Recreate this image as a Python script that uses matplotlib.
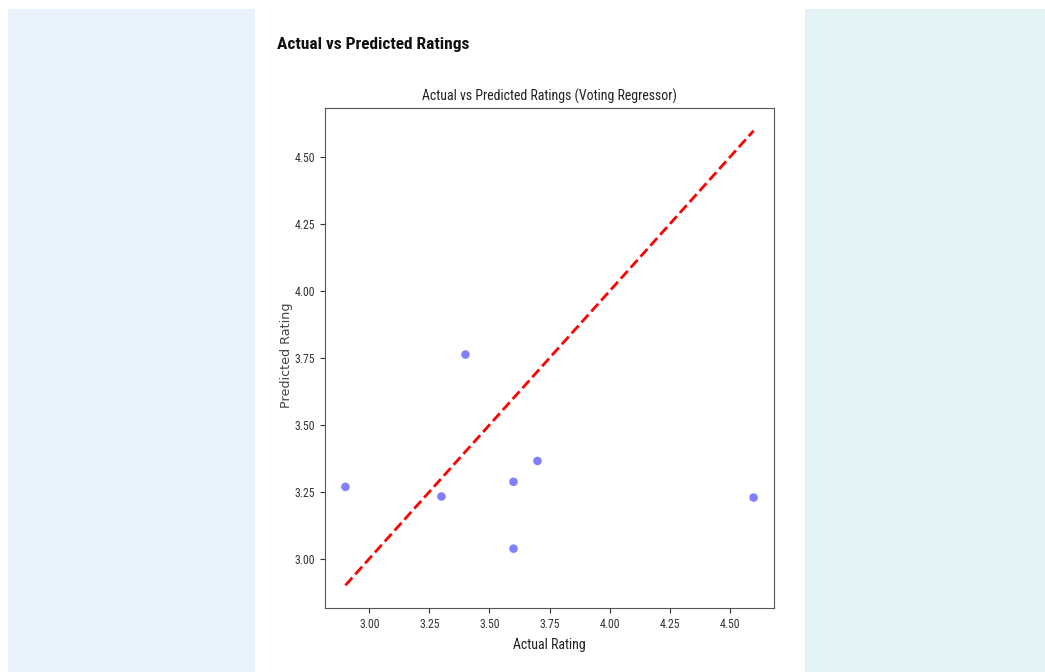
import matplotlib
matplotlib.use("Agg")
import matplotlib.pyplot as plt
from matplotlib.patches import Rectangle

actual = [2.9, 3.3, 3.4, 3.6, 3.6, 3.7, 4.6]
predicted = [3.268, 3.232, 3.763, 3.287, 3.037, 3.365, 3.228]
xticks = [3.00, 3.25, 3.50, 3.75, 4.00, 4.25, 4.50]
yticks = [3.00, 3.25, 3.50, 3.75, 4.00, 4.25, 4.50]

W, H = 1045, 672
fig = plt.figure(figsize=(W / 100, H / 100), dpi=100)
fig.patch.set_facecolor("white")

# page side panels
fig.patches.append(Rectangle((8 / W, 0), (255 - 8) / W, (H - 9) / H,
                             transform=fig.transFigure, facecolor="#eaf3fc",
                             edgecolor="none", zorder=0))
fig.patches.append(Rectangle((805 / W, 0), (W - 805) / W, (H - 9) / H,
                             transform=fig.transFigure, facecolor="#e3f2f2",
                             edgecolor="none", zorder=0))

cond = ["Roboto Condensed", "DejaVu Sans"]

fig.text(277 / W, 1 - 44 / H, "Actual vs Predicted Ratings", fontsize=12.5,
         fontweight="bold", family=["Roboto Condensed", "Roboto", "DejaVu Sans"],
         va="center", ha="left", color="#111111")

ax = fig.add_axes([325 / W, (H - 608) / H, 449 / W, 500 / H])
ax.scatter(actual, predicted, color="blue", alpha=0.5, s=38, edgecolors="none")
lo, hi = min(actual), max(actual)
ax.plot([lo, hi], [lo, hi], "r--", lw=2)
ax.set_xticks(xticks)
ax.set_yticks(yticks)
tick_font = dict(family=cond, fontsize=8.5)
ax.set_xticklabels([f"{t:.2f}" for t in xticks], **tick_font)
ax.set_yticklabels([f"{t:.2f}" for t in yticks], **tick_font)
ax.set_title("Actual vs Predicted Ratings (Voting Regressor)", family=cond,
             fontsize=10, pad=5, color="#222222")
ax.set_xlabel("Actual Rating", family=cond, fontsize=10, color="#222222",
              labelpad=5)
ax.set_ylabel("Predicted Rating", family=["DejaVu Sans"], fontsize=9.2,
              color="#444444", labelpad=1, y=0.505)
for s in ax.spines.values():
    s.set_color("#555555")
ax.tick_params(colors="#333333", length=3.5)

fig.savefig("out.png", dpi=100)
